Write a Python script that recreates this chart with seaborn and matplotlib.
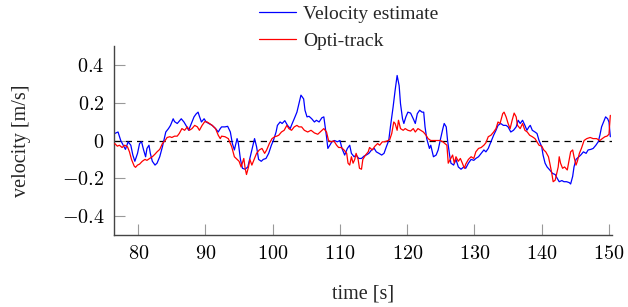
import pandas as pd
import matplotlib
matplotlib.use("Agg")
import matplotlib.pyplot as plt
import seaborn as sns
from matplotlib.ticker import FuncFormatter

# Estimativa de velocidade (azul)
t_vel = [76.5, 77.0, 77.4, 77.9, 78.1, 78.5, 78.9, 79.2, 79.5, 79.9, 80.2, 80.5, 80.8, 81.1, 81.3,
         81.6, 81.8, 82.1, 82.5, 82.8, 83.2, 83.6, 84.1, 84.5, 84.8, 85.2, 85.4, 85.8, 86.0, 86.4,
         86.8, 87.1, 87.5, 87.9, 88.3, 88.6, 88.9, 89.1, 89.4, 89.8, 90.1, 90.5, 91.0, 91.5, 91.9,
         92.2, 92.4, 92.9, 93.3, 93.7, 94.0, 94.3, 94.7, 94.9, 95.2, 95.5, 95.9, 96.3, 96.6, 97.0,
         97.3, 97.6, 97.9, 98.3, 98.6, 99.0, 99.4, 99.8, 100.1, 100.5, 100.7, 101.1, 101.4, 101.8, 102.2,
         102.6, 102.9, 103.2, 103.6, 103.9, 104.2, 104.6, 104.8, 105.1, 105.4, 105.8, 106.2, 106.5, 106.9, 107.3,
         107.6, 108.0, 108.2, 108.5, 108.8, 109.2, 109.6, 110.0, 110.3, 110.7, 111.1, 111.45, 111.7, 112.1, 112.4,
         112.8, 113.2, 113.6, 113.9, 114.3, 114.7, 115.1, 115.4, 115.8, 116.2, 116.55, 116.9, 117.25, 117.5, 117.9,
         118.2, 118.5, 118.8, 119.0, 119.3, 119.5, 119.8, 120.1, 120.5, 120.9, 121.2, 121.5, 121.85, 122.2, 122.45,
         122.65, 122.9, 123.3, 123.5, 123.9, 124.3, 124.6, 124.9, 125.3, 125.5, 125.8, 126.0, 126.3, 126.5, 126.9,
         127.25, 127.6, 128.0, 128.4, 128.7, 129.1, 129.5, 129.9, 130.2, 130.6, 131.0, 131.4, 131.7, 132.05, 132.45,
         132.85, 133.2, 133.5, 133.9, 134.3, 134.7, 135.0, 135.4, 135.8, 136.2, 136.5, 136.8, 137.15, 137.5, 137.8,
         138.1, 138.3, 138.6, 139.0, 139.3, 139.6, 140.0, 140.2, 140.5, 140.8, 141.2, 141.6, 142.0, 142.3, 142.6,
         143.0, 143.3, 143.7, 144.1, 144.3, 144.6, 144.8, 145.1, 145.4, 145.8, 146.2, 146.6, 146.9, 147.3, 147.65,
         148.05, 148.4, 148.65, 148.9, 149.2, 149.5, 149.8, 150.0, 150.2]
v_vel = [0.037, 0.045, 0.0, -0.033, -0.047, -0.007, -0.025, -0.077, -0.11, -0.068, -0.016, -0.007, -0.05, -0.086, -0.042,
         -0.025, -0.068, -0.11, -0.13, -0.12, -0.086, -0.033, 0.045, 0.063, 0.08, 0.115, 0.10, 0.09, 0.098, 0.115,
         0.098, 0.08, 0.054, 0.09, 0.125, 0.14, 0.15, 0.128, 0.098, 0.115, 0.098, 0.09, 0.08, 0.063, 0.045,
         0.063, 0.072, 0.072, 0.075, 0.045, -0.016, -0.05, 0.01, -0.016, -0.10, -0.147, -0.152, -0.14, -0.095, -0.033,
         0.01, -0.033, -0.10, -0.11, -0.10, -0.095, -0.068, -0.025, 0.0, 0.045, 0.08, 0.098, 0.09, 0.105, 0.08,
         0.063, 0.09, 0.115, 0.15, 0.195, 0.24, 0.22, 0.16, 0.125, 0.128, 0.115, 0.098, 0.107, 0.098, 0.12,
         0.125, 0.02, -0.042, -0.025, -0.007, 0.0, -0.007, 0.0, -0.042, -0.077, -0.042, -0.025, -0.068, -0.086, -0.077,
         -0.095, -0.095, -0.082, -0.077, -0.068, -0.05, -0.042, -0.06, -0.068, -0.077, -0.068, -0.033, 0.0, 0.072, 0.177,
         0.265, 0.344, 0.29, 0.195, 0.115, 0.09, 0.125, 0.15, 0.145, 0.115, 0.09, 0.142, 0.16, 0.15, 0.15,
         0.072, 0.01, -0.042, -0.025, -0.086, -0.077, -0.05, 0.0, 0.063, 0.09, 0.072, 0.0, -0.077, -0.12, -0.13,
         -0.10, -0.14, -0.152, -0.14, -0.147, -0.12, -0.10, -0.105, -0.095, -0.086, -0.068, -0.05, -0.06, -0.042, -0.007,
         0.028, 0.054, 0.08, 0.09, 0.08, 0.08, 0.072, 0.045, 0.054, 0.072, 0.107, 0.09, 0.107, 0.08, 0.054,
         0.072, 0.08, 0.054, 0.045, 0.037, 0.0, -0.033, -0.077, -0.12, -0.14, -0.156, -0.174, -0.18, -0.20, -0.218,
         -0.212, -0.218, -0.218, -0.223, -0.23, -0.19, -0.14, -0.10, -0.09, -0.077, -0.06, -0.068, -0.05, -0.047, -0.042,
         -0.025, -0.007, 0.028, 0.072, 0.098, 0.125, 0.115, 0.098, 0.02]

# Opti-track (vermelho)
t_opt = [76.5, 76.9, 77.2, 77.6, 78.0, 78.4, 78.7, 79.0, 79.4, 79.6, 79.9, 80.2, 80.6, 81.0, 81.3,
         81.7, 82.1, 82.5, 82.8, 83.2, 83.6, 84.0, 84.3, 84.7, 85.0, 85.4, 85.8, 86.1, 86.5, 86.9,
         87.3, 87.6, 88.0, 88.4, 88.8, 89.1, 89.5, 89.9, 90.25, 90.6, 91.0, 91.5, 91.9, 92.2, 92.4,
         92.9, 93.4, 93.9, 94.3, 94.7, 95.0, 95.3, 95.7, 95.9, 96.1, 96.4, 96.6, 96.9, 97.3, 97.6,
         98.0, 98.4, 98.8, 99.1, 99.5, 99.9, 100.3, 100.6, 100.9, 101.3, 101.7, 102.1, 102.4, 102.8, 103.2,
         103.6, 103.9, 104.3, 104.7, 105.2, 105.7, 106.2, 106.7, 107.2, 107.6, 108.0, 108.3, 108.7, 109.1, 109.5,
         109.8, 110.2, 110.6, 111.0, 111.2, 111.45, 111.7, 111.95, 112.2, 112.4, 112.7, 112.9, 113.2, 113.4, 113.8,
         114.2, 114.4, 114.8, 115.2, 115.6, 115.9, 116.3, 116.65, 117.05, 117.4, 117.7, 118.0, 118.2, 118.5, 118.7,
         119.0, 119.4, 119.7, 120.1, 120.5, 120.9, 121.2, 121.6, 122.0, 122.4, 122.8, 123.1, 123.5, 124.0, 124.5,
         124.9, 125.3, 125.6, 125.9, 126.1, 126.4, 126.75, 127.0, 127.25, 127.6, 127.9, 128.2, 128.5, 128.7, 129.1,
         129.5, 129.9, 130.2, 130.6, 131.0, 131.4, 131.7, 132.05, 132.45, 132.85, 133.2, 133.5, 133.8, 134.2, 134.4,
         134.7, 135.0, 135.3, 135.6, 135.9, 136.2, 136.4, 136.8, 137.15, 137.5, 137.85, 138.2, 138.6, 139.0, 139.3,
         139.6, 140.0, 140.3, 140.6, 141.0, 141.2, 141.5, 141.7, 142.0, 142.2, 142.45, 142.6, 142.8, 143.1, 143.4,
         143.8, 144.1, 144.3, 144.6, 144.8, 145.1, 145.3, 145.6, 145.9, 146.3, 146.7, 147.2, 147.65, 148.15, 148.65,
         149.0, 149.4, 149.7, 150.0, 150.2]
v_opt = [-0.016, -0.03, -0.025, -0.037, -0.025, -0.033, -0.06, -0.10, -0.135, -0.142, -0.13, -0.125, -0.11, -0.10, -0.105,
         -0.095, -0.086, -0.072, -0.06, -0.047, -0.016, 0.0, 0.016, 0.02, 0.016, 0.023, 0.023, 0.037, 0.063, 0.054,
         0.072, 0.054, 0.063, 0.08, 0.072, 0.054, 0.08, 0.10, 0.098, 0.09, 0.08, 0.063, 0.028, 0.01, 0.023,
         0.02, 0.01, -0.033, -0.086, -0.10, -0.11, -0.14, -0.095, -0.147, -0.18, -0.14, -0.10, -0.13, -0.095, -0.068,
         -0.05, -0.042, -0.068, -0.05, -0.016, 0.01, 0.02, 0.023, 0.028, 0.045, 0.054, 0.08, 0.063, 0.054, 0.072,
         0.08, 0.072, 0.072, 0.054, 0.045, 0.054, 0.04, 0.033, 0.05, 0.063, 0.045, 0.0, -0.007, -0.002, -0.025,
         -0.037, -0.037, -0.05, -0.068, -0.12, -0.13, -0.086, -0.12, -0.10, -0.068, -0.10, -0.147, -0.152, -0.10, -0.077,
         -0.06, -0.037, -0.05, -0.03, -0.016, -0.025, -0.007, -0.007, -0.002, 0.005, 0.037, 0.098, 0.09, 0.054, 0.107,
         0.063, 0.054, 0.063, 0.054, 0.05, 0.063, 0.045, 0.063, 0.054, 0.045, 0.028, 0.01, 0.0, 0.0, 0.0,
         0.0, -0.007, -0.016, -0.025, -0.12, -0.10, -0.077, -0.12, -0.086, -0.11, -0.095, -0.12, -0.147, -0.125, -0.10,
         -0.086, -0.095, -0.06, -0.042, -0.037, -0.025, -0.012, 0.02, 0.028, 0.045, 0.063, 0.098, 0.09, 0.142, 0.15,
         0.125, 0.09, 0.063, 0.107, 0.145, 0.125, 0.08, 0.063, 0.09, 0.054, 0.045, 0.028, 0.02, 0.01, -0.007,
         -0.025, -0.03, -0.05, -0.06, -0.086, -0.12, -0.174, -0.218, -0.21, -0.18, -0.14, -0.086, -0.12, -0.147, -0.14,
         -0.156, -0.10, -0.06, -0.05, -0.086, -0.13, -0.11, -0.068, -0.042, 0.0, 0.01, 0.016, 0.01, 0.01, 0.0,
         0.01, 0.02, 0.023, 0.033, 0.133]

x_ticks = [80, 90, 100, 110, 120, 130, 140, 150]
y_ticks = [-0.4, -0.2, 0, 0.2, 0.4]

df_vel = pd.DataFrame({"t": t_vel, "v": v_vel})
df_opt = pd.DataFrame({"t": t_opt, "v": v_opt})

sns.set_theme(style="ticks")
plt.rcParams.update({
    "font.family": ["Liberation Serif", "DejaVu Serif"],
    "mathtext.fontset": "cm",
    "font.size": 14,
    "axes.labelsize": 14.5,
    "legend.fontsize": 14,
    "xtick.labelsize": 14.5,
    "ytick.labelsize": 14.5,
})

fig = plt.figure(figsize=(6.28, 3.07), dpi=100)
ax = fig.add_axes([114 / 628, 1 - 235 / 307, (612 - 114) / 628, (235 - 46) / 307])

ax.axhline(0, color="black", lw=0.9, ls=(0, (5, 4)), zorder=1)
sns.lineplot(data=df_vel, x="t", y="v", ax=ax, color="blue", lw=0.9,
             estimator=None, sort=False, label="Velocity estimate", zorder=2)
sns.lineplot(data=df_opt, x="t", y="v", ax=ax, color="red", lw=0.9,
             estimator=None, sort=False, label="Opti-track", zorder=3)

ax.set_xlim(76.4, 150.45)
ax.set_ylim(-0.5, 0.5)
ax.set_xticks(x_ticks)
ax.set_yticks(y_ticks)
fmt = FuncFormatter(lambda v, p: "$0$" if abs(v) < 1e-9 else f"${v:g}$")
ax.xaxis.set_major_formatter(fmt)
ax.yaxis.set_major_formatter(fmt)

for s in ["top", "right"]:
    ax.spines[s].set_visible(False)
for s in ["left", "bottom"]:
    ax.spines[s].set_color("#444444")
    ax.spines[s].set_linewidth(1.0)
ax.tick_params(direction="in", length=8, width=0.8, color="#999999", pad=7, labelcolor="black")

ax.set_xlabel("time [s]", labelpad=15)
ax.set_ylabel("velocity [m/s]", labelpad=22)

ax.legend(loc="upper left", bbox_to_anchor=(259 / 628, 1 - 5 / 307), bbox_transform=fig.transFigure,
          frameon=False, handlelength=1.9, handletextpad=0.35, labelspacing=0.5,
          borderpad=0, borderaxespad=0)

fig.savefig("out.png", dpi=100)
